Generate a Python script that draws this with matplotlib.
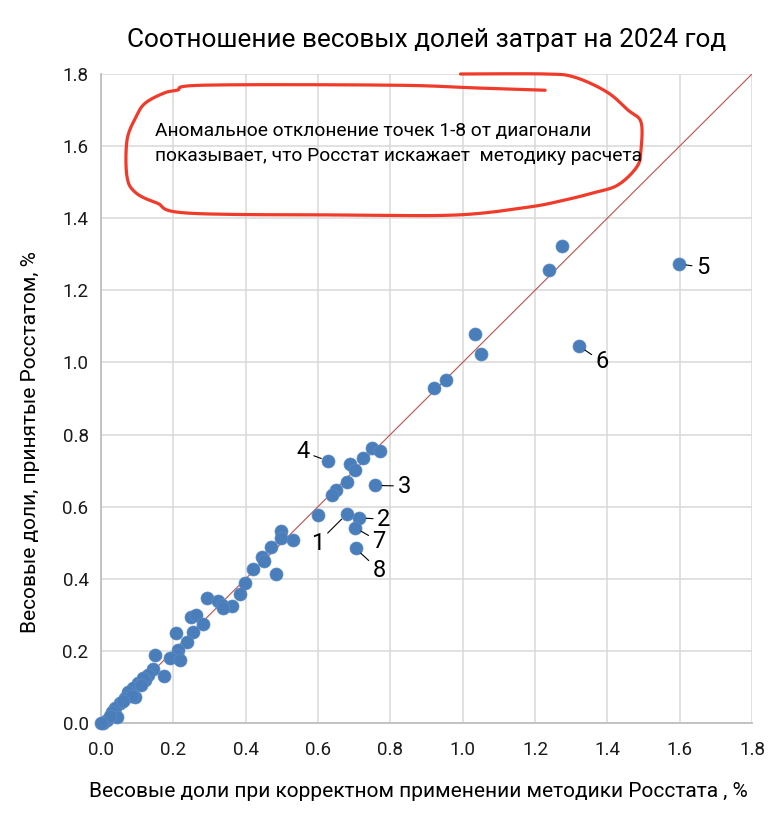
import numpy as np
import matplotlib
matplotlib.use("Agg")
import matplotlib.pyplot as plt

plt.rcParams['font.family'] = ['Roboto', 'DejaVu Sans']

# ---- data ----
x_vals = [1.274, 1.239, 1.034, 1.050, 0.954, 0.921,
          0.688, 0.702, 0.725, 0.748, 0.771, 0.681, 0.650, 0.638, 0.599,
          0.497, 0.497, 0.532, 0.469, 0.446, 0.451, 0.421, 0.398, 0.484, 0.384, 0.361,
          0.294, 0.324, 0.334, 0.338, 0.248, 0.264, 0.283, 0.207, 0.255, 0.237, 0.214,
          0.209, 0.191, 0.218, 0.149, 0.145, 0.175, 0.131, 0.122, 0.103, 0.089, 0.075,
          0.094, 0.066, 0.053, 0.039, 0.030, 0.043, 0.016, 0.006, 0.115, 0.085, 0.060,
          0.025, 0.000, 0.110]
y_vals = [1.323, 1.256, 1.079, 1.023, 0.951, 0.929,
          0.717, 0.702, 0.734, 0.762, 0.755, 0.669, 0.646, 0.632, 0.577,
          0.532, 0.512, 0.507, 0.489, 0.460, 0.450, 0.427, 0.389, 0.412, 0.357, 0.325,
          0.346, 0.339, 0.327, 0.318, 0.295, 0.300, 0.275, 0.251, 0.253, 0.225, 0.202,
          0.189, 0.179, 0.175, 0.189, 0.151, 0.131, 0.133, 0.119, 0.110, 0.096, 0.087,
          0.073, 0.068, 0.055, 0.041, 0.031, 0.017, 0.008, 0.000, 0.125, 0.075, 0.060,
          0.020, 0.000, 0.105]

# labelled anomalous points 1-8
label_names = ['1', '2', '3', '4', '5', '6', '7', '8']
label_x = [0.679, 0.714, 0.758, 0.627, 1.599, 1.322, 0.702, 0.704]
label_y = [0.579, 0.569, 0.659, 0.727, 1.273, 1.045, 0.542, 0.484]

ticks = [0.0, 0.2, 0.4, 0.6, 0.8, 1.0, 1.2, 1.4, 1.6, 1.8]
tick_labels = ['0.0', '0.2', '0.4', '0.6', '0.8', '1.0', '1.2', '1.4', '1.6', '1.8']

title = 'Соотношение весовых долей затрат на 2024 год'
xlabel = 'Весовые доли при корректном применении методики Росстата , %'
ylabel = 'Весовые доли, принятые Росстатом, %'
note = 'Аномальное отклонение точек 1-8 от диагонали\nпоказывает, что Росстат искажает  методику расчета'

# label text offsets (data units, relative to point)
label_dx = [-0.081, 0.068, 0.080, -0.068, 0.065, 0.064, 0.067, 0.065]
label_dy = [-0.081, -0.004, -0.002, 0.025, -0.009, -0.043, -0.039, -0.060]

# hand-drawn highlight shape (decoration, data units)
shape = [(0.994, 1.800), (1.230, 1.800), (1.310, 1.791), (1.399, 1.750), (1.457, 1.700),
         (1.493, 1.667), (1.493, 1.589), (1.482, 1.543), (1.429, 1.492), (1.360, 1.470),
         (1.280, 1.450), (1.183, 1.431), (0.984, 1.409), (0.688, 1.409), (0.243, 1.414),
         (0.155, 1.442), (0.097, 1.470), (0.072, 1.514), (0.072, 1.617), (0.097, 1.681),
         (0.122, 1.719), (0.174, 1.747), (0.210, 1.755), (0.285, 1.769), (0.807, 1.769),
         (1.045, 1.761), (1.228, 1.755)]

# ---- figure ----
fig = plt.figure(figsize=(7.82, 8.15), dpi=100)
ax = fig.add_axes([101/782, 92/815, 651/782, 649/815])

ax.set_xlim(0, 1.8)
ax.set_ylim(0, 1.8)
ax.set_xticks(ticks)
ax.set_yticks(ticks)
ax.set_xticklabels(tick_labels)
ax.set_yticklabels(tick_labels)
ax.tick_params(length=0, labelsize=13.5, colors='#1a1a1a')
ax.tick_params(axis='x', pad=13)
ax.tick_params(axis='y', pad=9)
ax.grid(True, color='#d9d9d9', linewidth=1.1)
ax.set_axisbelow(True)
for s in ['top', 'right']:
    ax.spines[s].set_visible(False)
for s in ['left', 'bottom']:
    ax.spines[s].set_color('#bfbfbf')
    ax.spines[s].set_linewidth(1.3)

# diagonal
ax.plot([0, 1.8], [0, 1.8], color='#c0504d', linewidth=0.8, zorder=2)

# points
ax.scatter(x_vals + label_x, y_vals + label_y, s=88, color='#4a7ebb',
           edgecolors='#5b8bc6', linewidths=0.5, zorder=3, clip_on=False)

# labels
for n, px, py, dx, dy in zip(label_names, label_x, label_y, label_dx, label_dy):
    ax.annotate(n, xy=(px, py), xytext=(px + dx, py + dy), fontsize=17,
                ha='center', va='center', color='black',
                arrowprops=dict(arrowstyle='-', color='black', lw=0.8,
                                shrinkA=1, shrinkB=5))

# hand-drawn shape: Catmull-Rom smoothing
pts = np.array(shape)
sm = []
for i in range(len(pts) - 1):
    p0 = pts[max(i - 1, 0)]
    p1 = pts[i]
    p2 = pts[i + 1]
    p3 = pts[min(i + 2, len(pts) - 1)]
    for t in np.linspace(0, 1, 12, endpoint=False):
        t2, t3 = t * t, t * t * t
        sm.append(0.5 * ((2 * p1) + (-p0 + p2) * t + (2 * p0 - 5 * p1 + 4 * p2 - p3) * t2
                         + (-p0 + 3 * p1 - 3 * p2 + p3) * t3))
sm.append(pts[-1])
sm = np.array(sm)
ax.plot(sm[:, 0], sm[:, 1], color='#f03a2a', linewidth=2.3, solid_capstyle='round',
        solid_joinstyle='round', zorder=4, clip_on=False)

ax.text(0.148, 1.607, note, fontsize=13.8, ha='left', va='center', linespacing=1.5,
        color='black', zorder=5)

fig.text(0.545, 0.951, title, fontsize=18.8, ha='center', va='center', color='black')
fig.text(0.535, 0.029, xlabel, fontsize=15, ha='center', va='center', color='black')
fig.text(0.039, 0.458, ylabel, fontsize=15, ha='center', va='center', rotation=90,
         color='black')

fig.savefig('out.png', dpi=100)
